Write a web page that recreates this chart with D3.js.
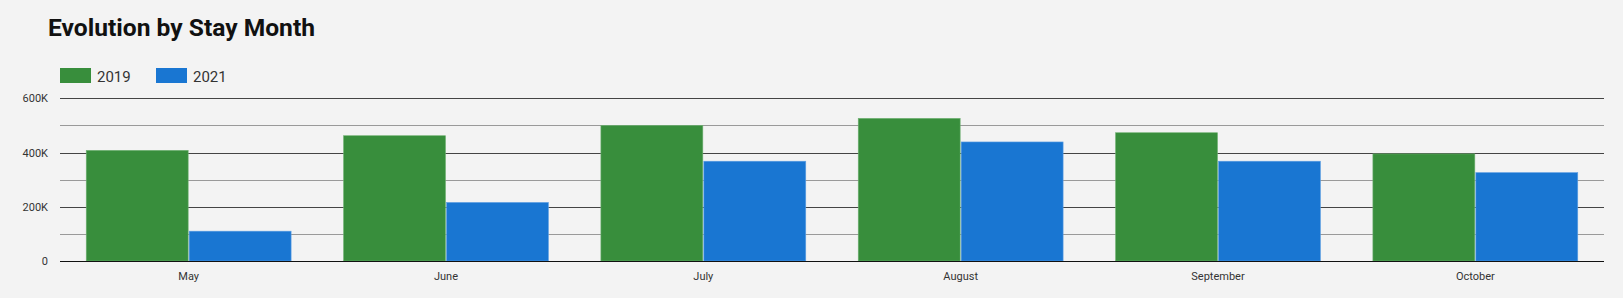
<!DOCTYPE html>
<html>
<head>
<meta charset="utf-8">
<script src="https://cdn.jsdelivr.net/npm/d3@7"></script>
<style>
  body { margin: 0; background: #f3f3f3; }
  svg { display: block; font-family: Roboto, sans-serif; }
</style>
</head>
<body>
<svg id="chart"></svg>
<script>
var months = ['May', 'June', 'July', 'August', 'September', 'October'];
var years = ['2019', '2021'];
var values2019 = [408000, 462000, 500000, 526000, 473000, 395000];
var values2021 = [110000, 216000, 368000, 439000, 368000, 326000];
var yTicks = [0, 100000, 200000, 300000, 400000, 500000, 600000];

var colors = { '2019': '#388e3c', '2021': '#1976d2' };

var width = 1623, height = 298;
var svg = d3.select('#chart')
  .attr('width', width)
  .attr('height', height);

var plotLeft = 60, plotRight = 1604, plotTop = 98.3, plotBottom = 261;

var x = d3.scaleBand()
  .domain(months)
  .range([plotLeft, plotRight])
  .paddingInner(0.2)
  .paddingOuter(0.1);

var xSub = d3.scaleBand()
  .domain(years)
  .range([0, x.bandwidth()]);

var y = d3.scaleLinear()
  .domain([0, 600000])
  .range([plotBottom, plotTop]);

// title
svg.append('text')
  .attr('x', 48)
  .attr('y', 36)
  .attr('font-size', 24.6)
  .attr('font-weight', 'bold')
  .attr('fill', '#111')
  .text('Evolution by Stay Month');

// legend
var legend = svg.selectAll('.legend')
  .data(years)
  .enter().append('g')
  .attr('transform', function(d, i) { return 'translate(' + (60 + i * 96) + ',68)'; });

legend.append('rect')
  .attr('width', 31)
  .attr('height', 15)
  .attr('fill', function(d) { return colors[d]; });

legend.append('text')
  .attr('x', 37)
  .attr('y', 13.5)
  .attr('font-size', 15)
  .attr('fill', '#333')
  .text(function(d) { return d; });

// gridlines
svg.append('g')
  .selectAll('line')
  .data(yTicks.slice(1))
  .enter().append('line')
  .attr('x1', plotLeft)
  .attr('x2', plotRight)
  .attr('y1', function(d) { return Math.round(y(d)) + 0.5; })
  .attr('y2', function(d) { return Math.round(y(d)) + 0.5; })
  .attr('stroke', function(d) { return d % 200000 === 0 ? '#444' : '#999'; })
  .attr('stroke-width', 1);

// y labels
svg.append('g')
  .selectAll('text')
  .data(yTicks.filter(function(d) { return d % 200000 === 0; }))
  .enter().append('text')
  .attr('x', 48)
  .attr('y', function(d) { return y(d) + 4; })
  .attr('text-anchor', 'end')
  .attr('font-size', 11)
  .attr('fill', '#333')
  .text(function(d) { return d === 0 ? '0' : d3.format('d')(d / 1000) + 'K'; });

// bars
var rows = months.map(function(m, i) {
  return { month: m, values: [{ year: '2019', v: values2019[i] }, { year: '2021', v: values2021[i] }] };
});

var groups = svg.append('g')
  .selectAll('g')
  .data(rows)
  .enter().append('g')
  .attr('transform', function(d) { return 'translate(' + x(d.month) + ',0)'; });

groups.selectAll('rect')
  .data(function(d) { return d.values; })
  .enter().append('rect')
  .attr('x', function(d) { return xSub(d.year) + 0.5; })
  .attr('y', function(d) { return y(d.v); })
  .attr('width', xSub.bandwidth() - 1)
  .attr('height', function(d) { return plotBottom - y(d.v); })
  .attr('fill', function(d) { return colors[d.year]; })
  .attr('stroke', function(d) { return d.year === '2019' ? '#6fb172' : '#5fa0e3'; })
  .attr('stroke-width', 0.6);

// baseline
svg.append('line')
  .attr('x1', plotLeft)
  .attr('x2', plotRight)
  .attr('y1', plotBottom + 0.5)
  .attr('y2', plotBottom + 0.5)
  .attr('stroke', '#111');

// x labels
svg.append('g')
  .selectAll('text')
  .data(months)
  .enter().append('text')
  .attr('x', function(d) { return x(d) + x.bandwidth() / 2; })
  .attr('y', 280)
  .attr('text-anchor', 'middle')
  .attr('font-size', 11)
  .attr('fill', '#333')
  .text(function(d) { return d; });
</script>
</body>
</html>
